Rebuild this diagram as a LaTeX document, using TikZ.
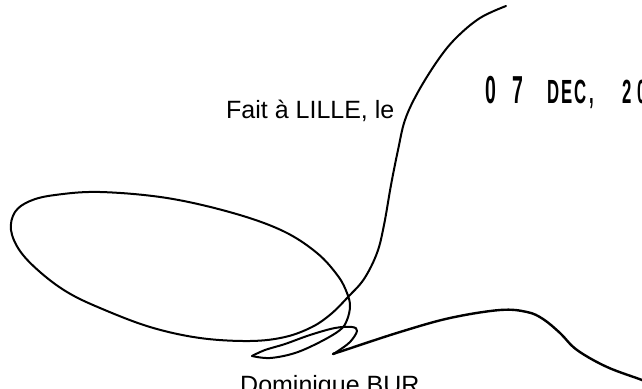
\documentclass[tikz,border=0pt]{standalone}
\usepackage{fontspec}
\setmainfont{Liberation Sans}
\begin{document}
\begin{tikzpicture}[x=1pt, y=-1pt,
  sig/.style = {line width=2pt, line cap=round, line join=round},
  txt/.style = {anchor=base west, inner sep=0pt, font=\fontsize{25}{30}\selectfont},
  stamp/.style = {anchor=base west, inner sep=0pt}]
\clip (0,0) rectangle (642,388);
\fill[white] (0,0) rectangle (642,388);

\node[txt] (fait) at (226,118) {Fait à LILLE, le};
\node[txt] (nom) at (240,393) {Dominique BUR};

% date stamp
\foreach \x/\c/\s in {485/0/39, 512/7/39, 547/D/33.5, 561/E/33.5, 574/C/33.5, 589/{,}/33.5, 622/2/33.5, 637/0/33.5}
  \node[stamp] (date\x) at (\x,103) {\scalebox{0.5}[1]{\fontsize{\s}{\s}\selectfont\bfseries\c}};

% signature: long stroke and big loop
\draw[sig] plot[smooth, tension=0.6] coordinates {
  (506,6) (480,18) (456,38) (438,60) (418,92) (405,120) (398,150)
  (391,185) (384,225) (377,253) (364,279) (348,297) (331,314)
  (312,327) (285,337) (250,341) (200,338) (150,327) (100,308)
  (67,292) (40,272) (20,251) (11,230) (15,212) (30,201) (55,195)
  (100,192) (167,198) (233,213) (283,231) (317,253) (338,276)
  (347,293) (350,306) (347,320) (340,330) (320,342) (295,353)
  (270,358) (252,356)};
% small loop
\draw[sig] plot[smooth, tension=0.6] coordinates {
  (252,356) (265,350) (285,344) (310,335) (335,328) (352,327)
  (357,331) (350,342) (338,351) (333,354)};
% tail
\draw[sig, line width=2.4pt] plot[smooth, tension=0.6] coordinates {
  (333,354) (345,350) (400,332) (450,318) (500,310) (527,312)
  (543,319) (560,333) (577,350) (607,367) (642,380) (650,384)};
\end{tikzpicture}
\end{document}
